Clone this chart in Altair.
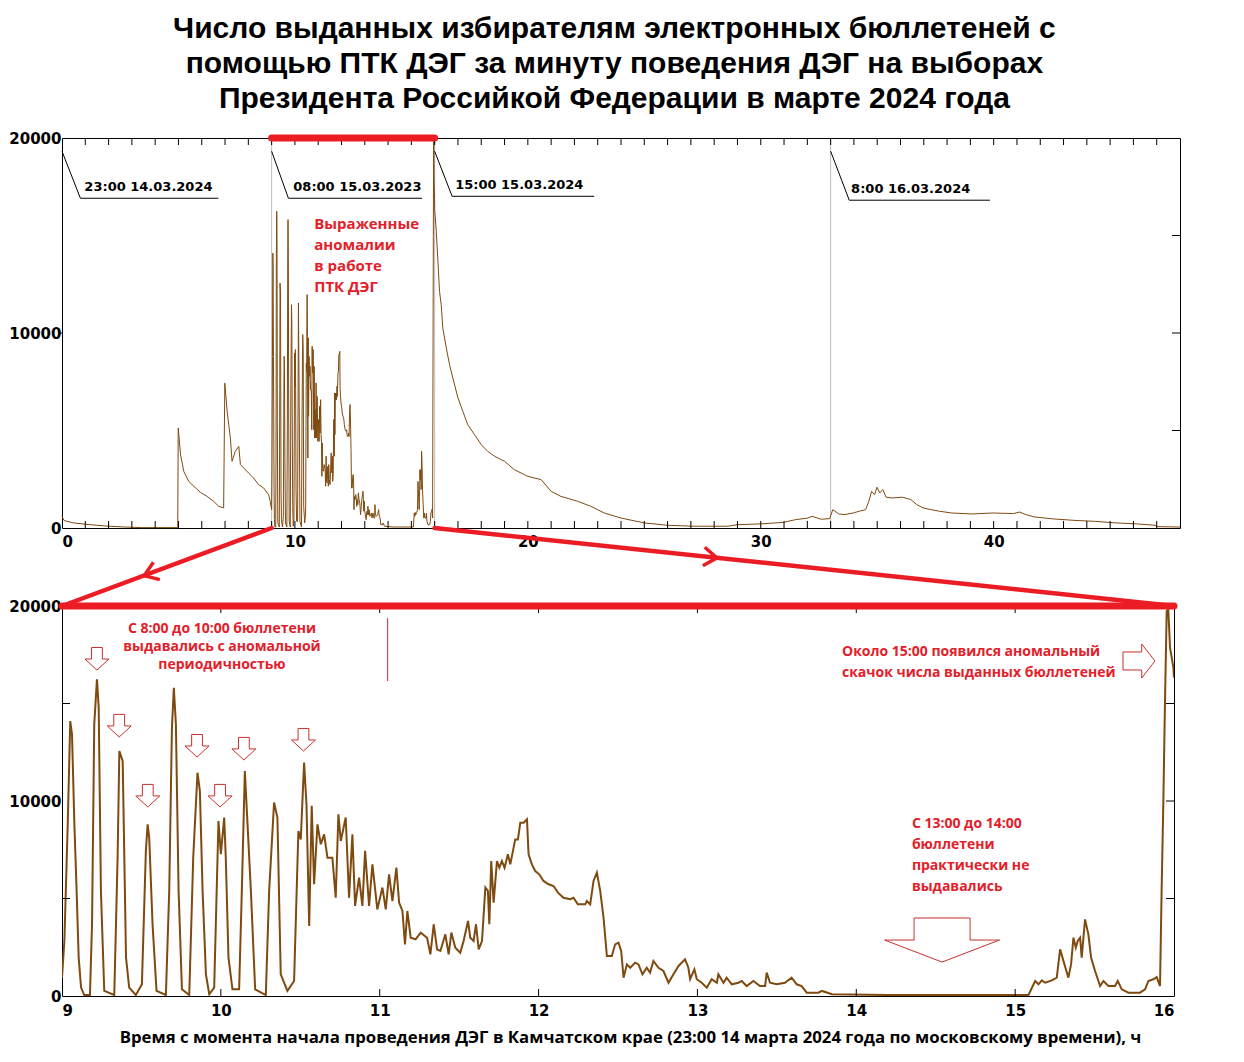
import altair as alt
import pandas as pd

# --- title and annotation texts ---
TITLE = [
    "Число выданных избирателям электронных бюллетеней с",
    "помощью ПТК ДЭГ за минуту поведения ДЭГ на выборах",
    "Президента Российкой Федерации в марте 2024 года",
]
X_TITLE = ("Время с момента начала проведения ДЭГ в Камчатском крае "
           "(23:00 14 марта 2024 года по московскому времени), ч")

# --- series: ballots per minute, hours since 23:00 14.03 ---
hours_a = [0.0, 0.09, 0.5, 1.2, 1.9, 2.7, 3.4, 4.97, 4.99, 5.09, 5.23, 5.44, 5.66,
           5.94, 6.23, 6.51, 6.73, 6.94, 6.99, 7.09, 7.23, 7.30, 7.44, 7.59, 7.66,
           7.80, 8.01, 8.23, 8.44, 8.66, 8.87, 8.94]
vals_a = [600, 380, 260, 170, 100, 50, 20, 20, 5130, 3760, 2900, 2390, 2140,
          1830, 1620, 1370, 1110, 1030, 7430, 5980, 4610, 3420, 3930, 4190, 3250,
          3080, 2820, 2560, 2220, 2050, 1710, 1370]

hours_b = [9.000, 9.015, 9.036, 9.052, 9.063, 9.078, 9.092, 9.105, 9.120, 9.140,
           9.176, 9.189, 9.203, 9.220, 9.231, 9.245, 9.266, 9.329, 9.350, 9.361,
           9.382, 9.403, 9.423, 9.465, 9.503, 9.528, 9.539, 9.549, 9.570, 9.595,
           9.654, 9.675, 9.692, 9.704, 9.717, 9.734, 9.755, 9.801, 9.826, 9.853,
           9.868, 9.885, 9.906, 9.927, 9.958, 9.985, 10.000, 10.021, 10.031, 10.048,
           10.073, 10.115, 10.132, 10.151, 10.168, 10.189, 10.216, 10.283, 10.304, 10.335,
           10.356, 10.377, 10.419, 10.461, 10.488, 10.503, 10.524, 10.539, 10.556, 10.572,
           10.587, 10.608, 10.629, 10.650, 10.671, 10.702, 10.723, 10.740, 10.755, 10.786,
           10.807, 10.828, 10.845, 10.870, 10.891, 10.908, 10.933, 10.954, 10.985, 11.017,
           11.038, 11.059, 11.080, 11.105, 11.122, 11.143, 11.159, 11.174, 11.195, 11.226,
           11.258,
           11.298, 11.319, 11.340, 11.361, 11.382, 11.413, 11.434, 11.451, 11.476, 11.507,
           11.528, 11.556, 11.570, 11.591, 11.606, 11.623, 11.644, 11.665, 11.681, 11.690,
           11.702, 11.717, 11.738, 11.753, 11.769, 11.786, 11.807, 11.822, 11.853, 11.870,
           11.885, 11.906, 11.927, 11.937, 11.958, 11.979, 12.004, 12.031, 12.063, 12.094,
           12.122, 12.157, 12.199, 12.220, 12.247, 12.294, 12.304, 12.325, 12.346, 12.367,
           12.388, 12.409, 12.430, 12.461, 12.482, 12.503, 12.520, 12.535, 12.556, 12.577,
           12.608, 12.629, 12.654, 12.681, 12.702, 12.723, 12.755, 12.786, 12.818, 12.849,
           12.881, 12.922, 12.943, 12.954, 12.981, 12.996, 13.027, 13.059, 13.090, 13.122,
           13.132, 13.164, 13.184, 13.216, 13.258, 13.279, 13.310, 13.352, 13.394, 13.426,
           13.436, 13.457, 13.499, 13.551, 13.593, 13.625, 13.656, 13.688, 13.761,
           13.784, 13.847, 14.2, 14.6, 15.0, 15.084, 15.126, 15.147, 15.168, 15.189,
           15.231, 15.262, 15.283, 15.304, 15.335, 15.352, 15.367, 15.382, 15.394, 15.409,
           15.419, 15.440, 15.461, 15.478, 15.503, 15.535, 15.556, 15.587, 15.629, 15.646,
           15.671, 15.713, 15.786, 15.818, 15.839, 15.870, 15.891, 15.912, 15.922, 15.933,
           15.943, 15.954, 15.964, 15.975, 15.996, 16.0]
vals_b = [940, 2820, 8800, 14100, 13420, 8800, 5390, 1970, 430, 50,
          50, 3680, 13930, 16240, 14790, 5390, 260, 50, 7090, 12560,
          12050, 1970, 430, 50, 600, 7440, 8800, 8120, 3680, 260,
          50, 5390, 13760, 15810, 13930, 5390, 340, 50, 7090, 11450,
          10510, 5390, 1110, 90, 430, 8970, 7270, 9150, 7090, 1970,
          340, 340, 5390, 11540, 8800, 5390, 340, 50, 5390, 9920,
          9150, 1110, 260, 770, 8460, 8030, 11970, 9830, 3590, 9750,
          5730, 8800, 7780, 8290, 7090, 7090, 5040, 9320, 7950, 9150,
          5040, 8290, 4620, 6070, 4620, 7440, 4620, 6750, 4440, 5560,
          4440, 6240, 4870, 6580, 4790, 4360, 2650, 4360, 2990, 2910,
          3250,
          2990, 2140, 3680, 2390, 2310, 3160, 2140, 3250, 2480, 2220,
          2820, 3850, 2990, 2820, 3680, 2390, 2820, 5560, 5390, 3680,
          6920, 4790, 6920, 6580, 6920, 6580, 7270, 6750, 8030, 8030,
          8890, 8890, 9060, 7270, 6750, 6410, 6240, 5900, 5730, 5640,
          5300, 5040, 4960, 5040, 4700, 4700, 4870, 4700, 5900, 6330,
          5390, 4020, 2050, 2050, 2650, 2740, 2310, 940, 1620, 1450,
          1710, 1620, 1110, 1450, 1200, 1800, 1450, 1280, 680, 1110,
          1540, 1880, 1450, 860, 1370, 860, 680, 430, 860, 680,
          1110, 680, 940, 600, 680, 770, 510, 770, 510, 510,
          1200, 680, 600, 680, 940, 600, 510, 170, 170,
          260, 90, 50, 50, 50, 50, 770, 600, 800, 680,
          800, 940, 2390, 1800, 940, 1620, 2990, 2480, 2820, 2990,
          1970, 3930, 3160, 1970, 1280, 510, 770, 510, 510, 770,
          340, 170, 170, 340, 770, 860, 970, 510, 5390, 10000,
          14960, 19740, 19830, 17860, 16840, 16330]

hours_c = [16.07, 16.14, 16.21, 16.28, 16.35, 16.50, 16.64, 16.78, 17.0, 17.21,
           17.42, 17.71, 18.0, 18.28, 18.57, 19.0, 19.42, 20.0, 20.57, 21.0,
           21.42, 22.14, 22.71, 23.28, 24.0, 25.0, 26.0, 27.1, 28.6, 29.0,
           30.0, 30.97, 31.5, 32.03, 32.2, 32.6, 32.96, 33.09, 33.35, 33.62,
           33.97, 34.23, 34.5, 34.64, 34.76, 34.89, 34.99, 35.11, 35.24, 35.38,
           35.64, 36.08, 36.44, 36.7, 36.97, 37.32, 37.67, 38.2, 39.08, 39.96,
           40.85, 41.11, 41.38, 41.73, 42.61, 43.49, 44.37, 45.26, 46.14, 46.93,
           47.02, 48.0]
vals_c = [15210, 13670, 12130, 11450, 10250, 9230, 8370, 7690, 6670, 5980,
          5300, 4790, 4270, 3930, 3680, 3420, 2990, 2650, 2480, 1880,
          1620, 1370, 1110, 770, 510, 260, 140, 90, 90, 170,
          210, 290, 430, 510, 600, 450, 480, 940, 720, 690,
          770, 860, 940, 1370, 1880, 1710, 2090, 1800, 1970, 1580,
          1540, 1580, 1460, 1200, 1030, 940, 860, 770, 720, 770,
          740, 820, 690, 570, 460, 390, 340, 260, 210, 140,
          70, 50]

# --- annotations (top panel) ---
marker_hours = [9, 16, 33]
label_text = ["23:00 14.03.2024", "08:00 15.03.2023", "15:00 15.03.2024", "8:00 16.03.2024"]
label_x = [0.96, 9.93, 16.88, 33.88]
label_y = [17470, 17470, 17575, 17370]
leader_x0 = [0, 9, 16, 33]
leader_x1 = [0.79, 9.72, 16.75, 33.8]
leader_x2 = [6.71, 15.46, 22.85, 39.84]
leader_y = [16910, 16910, 17010, 16810]
LEADER_TOP = 19320
anomaly_note = "Выраженные\nаномалии\nв работе\nПТК ДЭГ"

# --- annotations (bottom panel) ---
note_period = "С 8:00 до 10:00 бюллетени\nвыдавались с аномальной\nпериодичностью"
note_jump = "Около 15:00 появился аномальный\nскачок числа выданных бюллетеней"
note_pause = "С 13:00 до 14:00\nбюллетени\nпрактически не\nвыдавались"
peak_arrow_h = [9.22, 9.36, 9.54, 9.85, 9.995, 10.145, 10.52]
peak_arrow_v = [17280, 13850, 10260, 12820, 10260, 12670, 13130]

BROWN = "#7f4a10"
RED = "#ec1c24"
TXT_RED = "#e3202a"
ARROW_RED = "#c8302c"
W1, W2, H = 1118, 1112, 390
GAP = 78
Y_LOW = -GAP / H * 20000   # value at the top edge of the lower panel

SMALL_DOWN = "M -0.45 -0.96 L 0.45 -0.96 L 0.45 0 L 1 0 L 0 0.92 L -1 0 L -0.45 0 Z"
BIG_DOWN = "M -0.487 -0.383 L 0.487 -0.383 L 0.487 0 L 1 0 L 0 0.383 L -1 0 L -0.487 0 Z"
RIGHT = "M -1 -0.53 L 0.1 -0.53 L 0.1 -1 L 0.88 0 L 0.1 1 L 0.1 0.53 L -1 0.53 Z"
CHEVRON = "M -1 -0.7 L 0 0 L -1 0.7"

LBL = dict(labelFont="DejaVu Sans", labelFontWeight="bold", labelFontSize=15,
           labelColor="black", grid=False, domain=False, ticks=False, format="d")

AX_TOP = alt.Axis(values=[0, 10, 20, 30, 40], labelPadding=6, **LBL)
AX_BOT = alt.Axis(values=list(range(9, 17)), labelPadding=7,
                  titleFont="Liberation Sans Narrow, Open Sans", titleFontWeight="bold",
                  titleFontSize=16.8, titleColor="black", titlePadding=11,
                  titleX=568, titleAlign="center", titleAnchor="start", **LBL)
AY = alt.Axis(values=[0, 10000, 20000], labelPadding=1, **LBL)

full = pd.DataFrame({"h": hours_a + hours_b + hours_c, "v": vals_a + vals_b + vals_c})
zoom = pd.DataFrame({"h": hours_b, "v": vals_b})

X_TOP = alt.Scale(domain=[0, 48], nice=False, zero=False)
X_BOT = alt.Scale(domain=[9, 16], nice=False, zero=False)
Y_SC = alt.Scale(domain=[0, 20000], nice=False)


class Panel:
    def __init__(self, xsc, xax, xtitle=None):
        self.xsc, self.xax, self.xtitle = xsc, xax, xtitle

    def x(self, f="h"):
        return alt.X(f"{f}:Q", scale=self.xsc, axis=self.xax, title=self.xtitle)

    def y(self, f="v"):
        return alt.Y(f"{f}:Q", scale=Y_SC, axis=AY, title=None)

    def tick_rule(self, vals, x0, x1):
        return alt.Chart(pd.DataFrame({"v": list(vals)})).mark_rule(color="black", clip=False).encode(
            y=self.y(), x=alt.value(x0), x2=alt.value(x1))

    def ticks(self, hours, w, right_vals, left_in=(), left_out=()):
        hd = pd.DataFrame({"h": hours})
        parts = [
            alt.Chart(hd).mark_rule(color="black").encode(x=self.x(), y=alt.value(0), y2=alt.value(7)),
            alt.Chart(hd).mark_rule(color="black").encode(x=self.x(), y=alt.value(H), y2=alt.value(H - 7)),
            self.tick_rule(right_vals, w, w - 8),
        ]
        if left_in:
            parts.append(self.tick_rule(left_in, 0, 8))
        if left_out:
            parts.append(self.tick_rule(left_out, -3, 0))
        return parts


P1 = Panel(X_TOP, AX_TOP)
P2 = Panel(X_BOT, AX_BOT, X_TITLE)

# ---------------- top panel ----------------
markers = alt.Chart(pd.DataFrame({"h": marker_hours})).mark_rule(
    color="#bdbdbd", strokeWidth=1).encode(x=P1.x())

line_top = alt.Chart(full).mark_line(color=BROWN, strokeWidth=1).encode(x=P1.x(), y=P1.y())

rows = []
for i in range(len(leader_x0)):
    rows += [(i, 0, leader_x0[i], LEADER_TOP), (i, 1, leader_x1[i], leader_y[i]),
             (i, 2, leader_x2[i], leader_y[i])]
leaders = alt.Chart(pd.DataFrame(rows, columns=["g", "o", "h", "v"])).mark_line(
    color="black", strokeWidth=1).encode(x=P1.x(), y=P1.y(), detail="g:N", order="o:Q")

labels = alt.Chart(pd.DataFrame({"h": label_x, "v": label_y, "t": label_text})).mark_text(
    align="left", baseline="middle", font="DejaVu Sans", fontWeight="bold",
    fontSize=13, color="black").encode(x=P1.x(), y=P1.y(), text="t:N")

anomaly = alt.Chart(pd.DataFrame({"h": [10.83], "v": [15930], "t": [anomaly_note]})).mark_text(
    align="left", baseline="top", lineBreak="\n", lineHeight=21, font="Open Sans",
    fontWeight="bold", fontSize=15, color=TXT_RED).encode(x=P1.x(), y=P1.y(), text="t:N")

top_bar = alt.Chart(pd.DataFrame({"h": [9, 16], "v": [20000, 20000]})).mark_line(
    color=RED, strokeWidth=7, strokeCap="round", clip=False).encode(x=P1.x(), y=P1.y())

links = alt.Chart(pd.DataFrame({"g": [0, 0, 1, 1], "h": [9, 0, 16, 47.74],
                                "v": [0, Y_LOW, 0, Y_LOW]})).mark_line(
    color=RED, strokeWidth=4.5, strokeCap="round", clip=False).encode(
    x=P1.x(), y=P1.y(), detail="g:N")

heads = alt.Chart(pd.DataFrame({"h": [3.53, 28.12], "v": [-2440, -1533], "a": [159.6, 6.0]})).mark_point(
    shape=CHEVRON, filled=False, color=RED, strokeWidth=3.5, size=700, clip=False, opacity=1).encode(
    x=P1.x(), y=P1.y(), angle=alt.Angle("a:Q", scale=None))

top = alt.layer(
    markers, line_top,
    *P1.ticks(list(range(1, 48)), W1, [5000, 10000, 15000], left_out=[10000]),
    leaders, labels, anomaly, links, heads, top_bar,
).properties(width=W1, height=H)

# ---------------- bottom panel ----------------
line_bot = alt.Chart(zoom).mark_line(color=BROWN, strokeWidth=2, clip=True).encode(
    x=P2.x(), y=P2.y())

bot_bar = alt.Chart(pd.DataFrame({"h": [9, 16], "v": [20000, 20000]})).mark_line(
    color=RED, strokeWidth=7, strokeCap="round", clip=False).encode(x=P2.x(), y=P2.y())

stray = alt.Chart(pd.DataFrame({"h": [11.05], "v": [19380], "v2": [16150]})).mark_rule(
    color=TXT_RED, strokeWidth=1).encode(x=P2.x(), y=P2.y(), y2="v2:Q")


def arrows(h, v, shape, size):
    return alt.Chart(pd.DataFrame({"h": h, "v": v})).mark_point(
        shape=shape, size=size, filled=True, fill="white", stroke=ARROW_RED,
        strokeWidth=1, opacity=1).encode(x=P2.x(), y=P2.y())


def note(t, h, v, align, lh, fs):
    return alt.Chart(pd.DataFrame({"h": [h], "v": [v], "t": [t]})).mark_text(
        align=align, baseline="top", lineBreak="\n", lineHeight=lh, font="Open Sans",
        fontWeight="bold", fontSize=fs, color=TXT_RED).encode(x=P2.x(), y=P2.y(), text="t:N")


bottom = alt.layer(
    line_bot, *P2.ticks(list(range(10, 16)), W2, [5000, 10000, 15000], left_in=[5000, 15000]),
    stray,
    arrows(peak_arrow_h, peak_arrow_v, SMALL_DOWN, 576),
    arrows([15.786], [17180], RIGHT, 1156),
    arrows([14.54], [2870], BIG_DOWN, 13225),
    note(note_period, 10.007, 19190, "center", 18, 14),
    note(note_jump, 13.91, 18015, "left", 21, 14),
    note(note_pause, 14.35, 9195, "left", 21, 14),
    bot_bar,
).properties(width=W2, height=H)

chart = alt.vconcat(top, bottom, spacing=GAP, bounds="flush").properties(
    title=alt.TitleParams(TITLE, font="Liberation Sans", fontSize=30, fontWeight="bold",
                          lineHeight=35, anchor="middle", color="black", offset=10, dx=16),
    padding={"left": 0, "top": 5, "right": 5, "bottom": 5},
).configure_view(stroke="black", strokeWidth=1)

chart.save("out.html", embed_options={"renderer": "svg", "actions": False})
